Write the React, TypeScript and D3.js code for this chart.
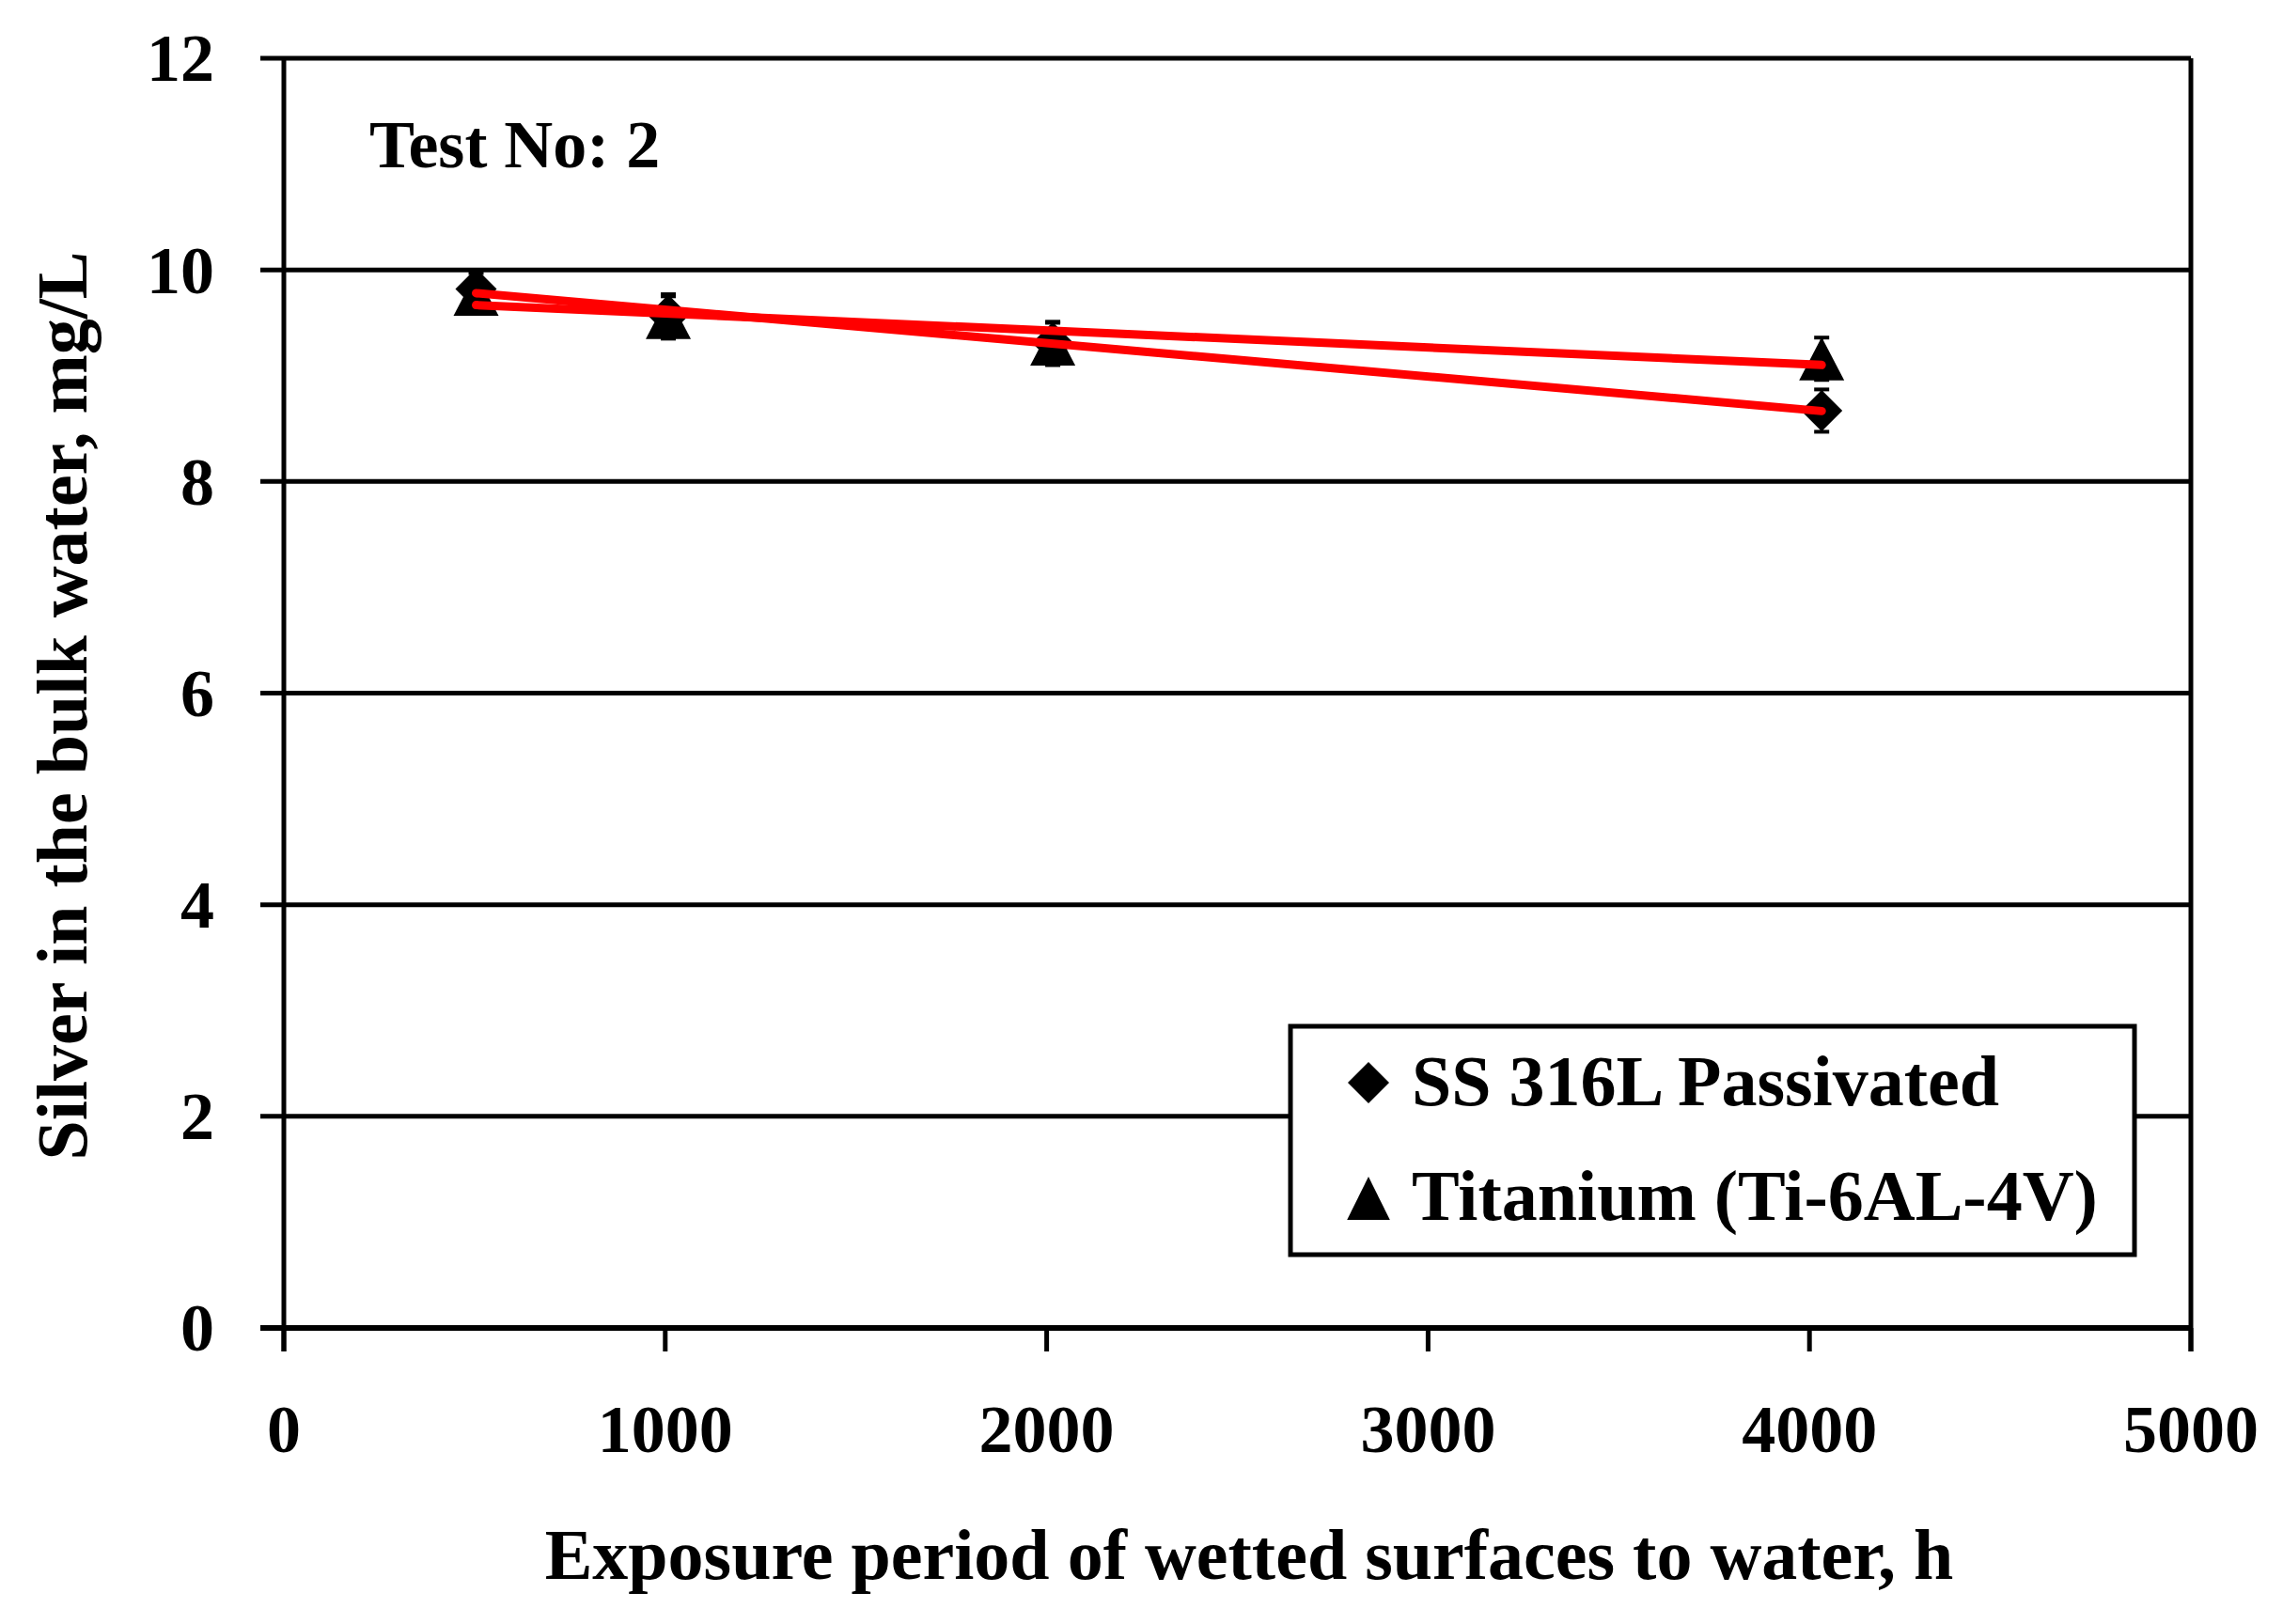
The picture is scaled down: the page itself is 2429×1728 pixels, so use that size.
import * as d3 from "d3";

const hours = [504, 1008, 2016, 4032];
const ssValues = [9.82, 9.57, 9.31, 8.67];
const ssErrors = [0.15, 0.2, 0.2, 0.2];
const tiValues = [9.77, 9.55, 9.3, 9.16];
const tiErrors = [0.15, 0.2, 0.2, 0.2];
const xTicks = [0, 1000, 2000, 3000, 4000, 5000];
const yTicks = [0, 2, 4, 6, 8, 10, 12];
const seriesNames = ["SS 316L Passivated", "Titanium (Ti-6AL-4V)"];

const font = "'Liberation Serif', 'Times New Roman', serif";

// Excel-style linear trendline
function fit(xs: number[], ys: number[]) {
  const mx = d3.mean(xs) ?? 0;
  const my = d3.mean(ys) ?? 0;
  const sxy = d3.sum(xs, (x, i) => (x - mx) * (ys[i] - my));
  const sxx = d3.sum(xs, (x) => (x - mx) * (x - mx));
  const b = sxy / sxx;
  const a = my - b * mx;
  const x0 = d3.min(xs) ?? 0;
  const x1 = d3.max(xs) ?? 0;
  return [
    [x0, a + b * x0],
    [x1, a + b * x1],
  ] as [number, number][];
}

const diamond = "M0,-22L22,0L0,22L-22,0Z";
const triangle = "M0,-23L24,23L-24,23Z";

export default function App() {
  const width = 2429;
  const height = 1728;
  const x = d3.scaleLinear().domain([0, 5000]).range([302, 2331]);
  const y = d3.scaleLinear().domain([0, 12]).range([1413, 62]);
  const line = d3
    .line<[number, number]>()
    .x((d) => x(d[0]))
    .y((d) => y(d[1]));

  const series = [
    { values: ssValues, errors: ssErrors, shape: diamond },
    { values: tiValues, errors: tiErrors, shape: triangle },
  ];

  return (
    <svg
      width={width}
      height={height}
      style={{ position: "absolute", left: 0, top: 0, background: "#fff" }}
      fontFamily={font}
      fontWeight="bold"
    >
      <rect width={width} height={height} fill="#fff" />

      {/* horizontal gridlines + y ticks */}
      {yTicks.map((t) => (
        <g key={t}>
          <line
            x1={x(0) - 25}
            x2={x(5000)}
            y1={y(t)}
            y2={y(t)}
            stroke="#000"
            strokeWidth={t === 0 ? 6 : 5}
          />
          <text
            x={228}
            y={y(t)}
            dy="0.34em"
            textAnchor="end"
            fontSize={72}
            fill="#000"
          >
            {t}
          </text>
        </g>
      ))}

      {/* left axis and right border */}
      <line x1={x(0)} x2={x(0)} y1={y(12)} y2={y(0) + 25} stroke="#000" strokeWidth={5} />
      <line x1={x(5000)} x2={x(5000)} y1={y(12)} y2={y(0) + 25} stroke="#000" strokeWidth={5} />

      {/* x ticks */}
      {xTicks.map((t) => (
        <g key={t}>
          <line x1={x(t)} x2={x(t)} y1={y(0)} y2={y(0) + 25} stroke="#000" strokeWidth={5} />
          <text x={x(t)} y={1545} textAnchor="middle" fontSize={72} fill="#000">
            {t}
          </text>
        </g>
      ))}

      {/* error bars + markers */}
      {series.map((s, si) => (
        <g key={si}>
          {hours.map((h, i) => (
            <g key={h}>
              <line
                x1={x(h)}
                x2={x(h)}
                y1={y(s.values[i] - s.errors[i])}
                y2={y(s.values[i] + s.errors[i])}
                stroke="#000"
                strokeWidth={3}
              />
              {[-1, 1].map((k) => (
                <line
                  key={k}
                  x1={x(h) - 8}
                  x2={x(h) + 8}
                  y1={y(s.values[i] + k * s.errors[i])}
                  y2={y(s.values[i] + k * s.errors[i])}
                  stroke="#000"
                  strokeWidth={4}
                />
              ))}
              <path
                d={s.shape}
                transform={`translate(${x(h)},${y(s.values[i])})`}
                fill="#000"
              />
            </g>
          ))}
        </g>
      ))}

      {/* trendlines */}
      {series.map((s, si) => (
        <path
          key={si}
          d={line(fit(hours, s.values)) ?? ""}
          fill="none"
          stroke="#ff0000"
          strokeWidth={9}
          strokeLinecap="round"
        />
      ))}

      <text x={393} y={178} fontSize={72} fill="#000">
        Test No: 2
      </text>

      {/* legend */}
      <rect x={1373} y={1092} width={898} height={243} fill="#fff" stroke="#000" strokeWidth={5} />
      <path d={diamond} transform="translate(1456,1152)" fill="#000" />
      <path d={triangle} transform="translate(1456,1275) scale(0.95,1)" fill="#000" />
      <text x={1502} y={1176} fontSize={76} fill="#000">
        {seriesNames[0]}
      </text>
      <text x={1502} y={1298} fontSize={76} fill="#000">
        {seriesNames[1]}
      </text>

      {/* axis titles */}
      <text x={1329} y={1680} textAnchor="middle" fontSize={76} fill="#000">
        Exposure period of wetted surfaces to water, h
      </text>
      <text
        transform="translate(92,751) rotate(-90)"
        textAnchor="middle"
        fontSize={76}
        fill="#000"
      >
        Silver in the bulk water, mg/L
      </text>
    </svg>
  );
}
